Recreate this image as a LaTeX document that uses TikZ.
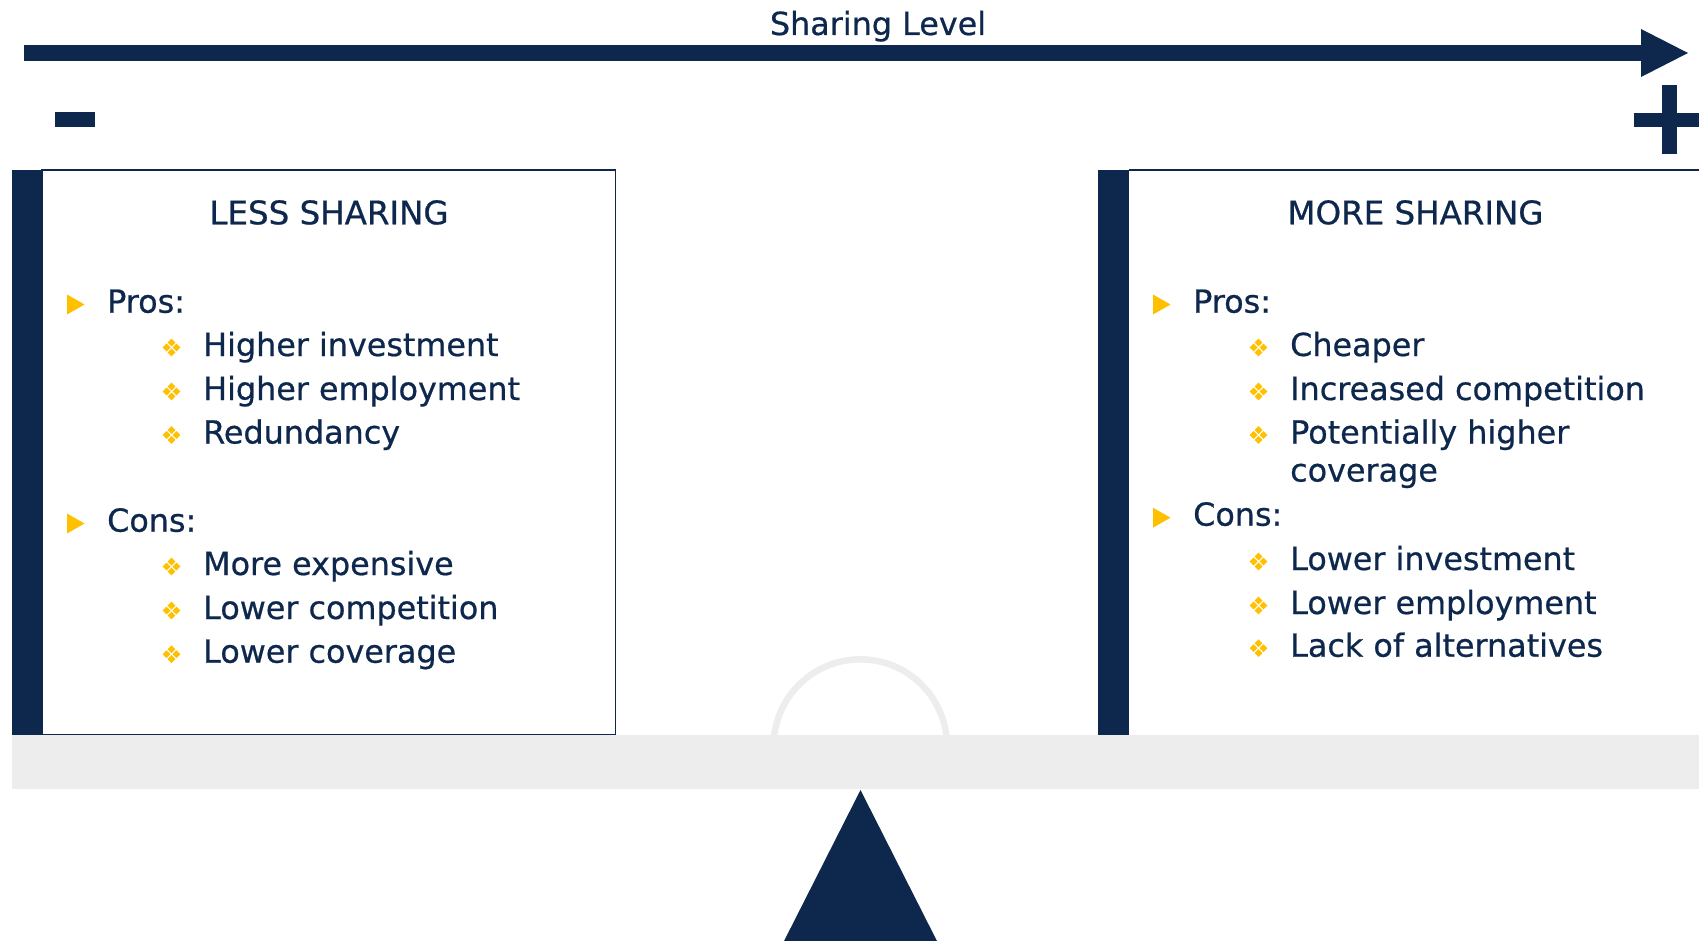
\documentclass[tikz,border=0pt]{standalone}
\usepackage{fontspec}
\setmainfont{DejaVu Sans}[FakeBold=0.6]
\definecolor{navy}{RGB}{14,40,77}
\definecolor{gold}{RGB}{255,192,0}
\definecolor{beamgray}{RGB}{237,237,237}
\begin{document}
\begin{tikzpicture}[x=1pt,y=-1pt,
  txt/.style={font=\fontsize{31.8}{38}\selectfont, text=navy, inner sep=0pt, anchor=base west},
  headtxt/.style={txt, font=\fontsize{32.5}{40}\selectfont, anchor=base},
  tri/.pic={\fill[gold] (0,-10) -- (17.5,0) -- (0,10) -- cycle;},
  dia/.pic={\foreach \dx/\dy in {4.9/0,-4.9/0,0/4.9,0/-4.9}
      \fill[gold] (\dx,\dy) +(-3.9,0) -- +(0,-3.9) -- +(3.9,0) -- +(0,3.9) -- cycle;}
]
\useasboundingbox (0,0) rectangle (1699,941);

% top scale arrow
\fill[navy] (24,45.5) rectangle (1642,61);
\fill[navy] (1641,29) -- (1688,53) -- (1641,77) -- cycle;
\node[txt, anchor=base] (title) at (878,35) {Sharing Level};

% minus and plus
\fill[navy] (55,112) rectangle (95,127);
\fill[navy] (1634,113) rectangle (1706,127);
\fill[navy] (1661.5,85) rectangle (1676.5,154);

% pivot arc
\draw[beamgray, line width=6.5pt] (860.3,746) ++(-10:86.7pt) arc[start angle=-10, end angle=190, radius=86.7pt];

% boxes
\draw[navy, line width=1.2pt, fill=white] (42,170) rectangle (615.5,735);
\fill[navy] (12,170) rectangle (42,735);
\draw[navy, line width=1.2pt] (1129,170) -- (1702,170);
\fill[navy] (1098,170) rectangle (1129,735);

% beam and fulcrum
\fill[beamgray] (12,735) rectangle (1699,789);
\fill[navy] (860.5,790) -- (939,945) -- (782,945) -- cycle;

% left box text
\node[headtxt] (lesshead) at (329,224.3) {LESS SHARING};
\pic at (67,304.5) {tri};
\node[txt] (lpros) at (107,312.7) {Pros:};
\pic at (171.5,347.5) {dia};
\node[txt] (lp1) at (203,356) {Higher investment};
\pic at (171.5,391.5) {dia};
\node[txt] (lp2) at (203,400) {Higher employment};
\pic at (171.5,435) {dia};
\node[txt] (lp3) at (203,443.5) {Redundancy};
\pic at (67,523.5) {tri};
\node[txt] (lcons) at (107,531.7) {Cons:};
\pic at (171.5,566.5) {dia};
\node[txt] (lc1) at (203,575) {More expensive};
\pic at (171.5,610.5) {dia};
\node[txt] (lc2) at (203,619) {Lower competition};
\pic at (171.5,654.2) {dia};
\node[txt] (lc3) at (203,662.7) {Lower coverage};

% right box text
\node[headtxt] (morehead) at (1415.5,224.3) {MORE SHARING};
\pic at (1153,304.5) {tri};
\node[txt] (rpros) at (1193,312.7) {Pros:};
\pic at (1258.5,347.5) {dia};
\node[txt] (rp1) at (1290,356) {Cheaper};
\pic at (1258.5,391.5) {dia};
\node[txt] (rp2) at (1290,400) {Increased competition};
\pic at (1258.5,435) {dia};
\node[txt] (rp3) at (1290,443.5) {Potentially higher};
\node[txt] (rp3b) at (1290,481.5) {coverage};
\pic at (1153,517.7) {tri};
\node[txt] (rcons) at (1193,525.7) {Cons:};
\pic at (1258.5,561.5) {dia};
\node[txt] (rc1) at (1290,570) {Lower investment};
\pic at (1258.5,605.5) {dia};
\node[txt] (rc2) at (1290,614) {Lower employment};
\pic at (1258.5,648.2) {dia};
\node[txt] (rc3) at (1290,656.7) {Lack of alternatives};
\end{tikzpicture}
\end{document}
